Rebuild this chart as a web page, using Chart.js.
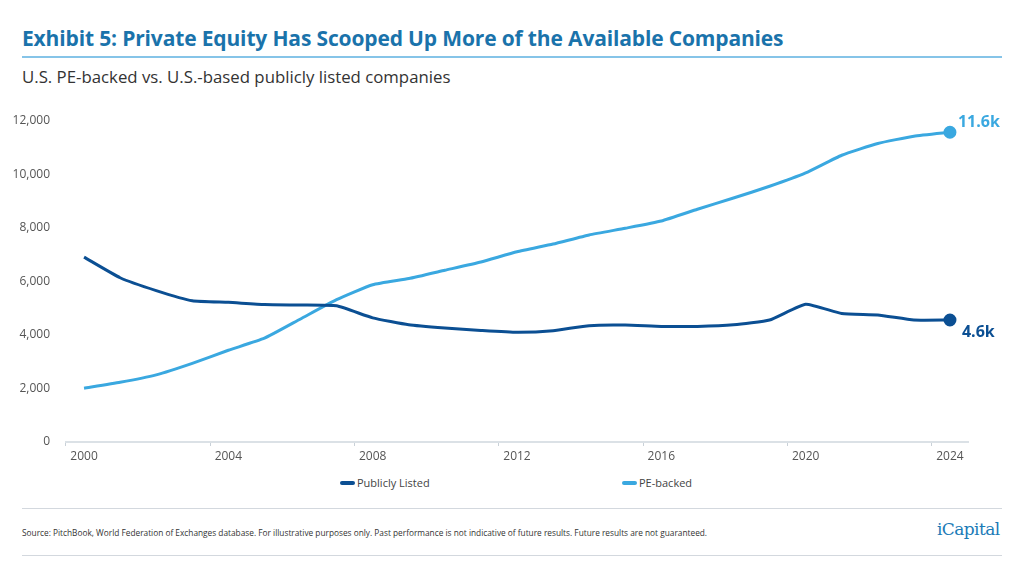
<!DOCTYPE html>
<html>
<head>
<meta charset="utf-8">
<script src="https://cdn.jsdelivr.net/npm/chart.js@4.4.1/dist/chart.umd.min.js"></script>
<style>
  html, body { margin: 0; padding: 0; background: #fff; }
  body { width: 1024px; height: 576px; position: relative; overflow: hidden; font-family: "Open Sans", sans-serif; }
  .title { position: absolute; left: 22px; top: 24px; font-size: 21px; font-weight: 700; color: #1a73ab; letter-spacing: -0.15px; }
  .rule { position: absolute; left: 22px; width: 980px; }
  .subtitle { position: absolute; left: 22px; top: 65px; font-size: 16.8px; color: #333; }
  .chart-box { position: absolute; left: 0; top: 100px; width: 1024px; height: 365px; }
  .legend { position: absolute; top: 475px; font-size: 11px; color: #444; display: flex; align-items: center; }
  .legend i { display: inline-block; width: 15px; height: 4px; border-radius: 2px; margin-right: 2px; }
  .source { position: absolute; left: 22px; top: 527px; font-size: 8.3px; color: #333; }
  .logo { position: absolute; left: 937px; top: 519px; font-family: "DejaVu Serif", serif; font-size: 17px; color: #1b7bb7; letter-spacing: -0.6px; }
</style>
</head>
<body>
<div class="title">Exhibit 5: Private Equity Has Scooped Up More of the Available Companies</div>
<div class="rule" style="top:56px; border-top:2px solid #86c4e8;"></div>
<div class="subtitle">U.S. PE-backed vs. U.S.-based publicly listed companies</div>
<div class="chart-box"><canvas id="lineChart"></canvas></div>
<div class="legend" style="left:340px;"><i style="background:#0b4f93"></i>Publicly Listed</div>
<div class="legend" style="left:622px;"><i style="background:#3aa8e0"></i>PE-backed</div>
<div class="rule" style="top:508px; border-top:1.5px solid #d3d8de;"></div>
<div class="source">Source: PitchBook, World Federation of Exchanges database. For illustrative purposes only. Past performance is not indicative of future results. Future results are not guaranteed.</div>
<div class="logo">iCapital</div>
<div class="rule" style="top:555px; border-top:1.5px solid #d3d8de;"></div>

<script>
// data
const years = ['2000', '2001', '2002', '2003', '2004', '2005', '2006', '2007', '2008', '2009', '2010', '2011',
               '2012', '2013', '2014', '2015', '2016', '2017', '2018', '2019', '2020', '2021', '2022', '2023', '2024'];
const publiclyListed = [6910, 6140, 5660, 5280, 5220, 5140, 5120, 5090, 4640, 4380, 4260, 4170,
                        4100, 4160, 4350, 4370, 4320, 4320, 4380, 4560, 5150, 4800, 4750, 4560, 4560];
const peBacked = [2010, 2230, 2510, 2940, 3430, 3880, 4600, 5320, 5880, 6110, 6420, 6730,
                  7110, 7400, 7740, 7990, 8260, 8700, 9120, 9560, 10060, 10720, 11160, 11430, 11580];
const yTicks = [0, 2000, 4000, 6000, 8000, 10000, 12000];

const darkBlue = '#0b4f93';
const lightBlue = '#3aa8e0';

// bold "11.6k" / "4.6k" tags at the last point of each line
const endLabels = {
    id: 'endLabels',
    afterDatasetsDraw(chart) {
        const ctx = chart.ctx;
        const offsets = [[12, 12], [8, -10]];
        chart.data.datasets.forEach((ds, i) => {
            const meta = chart.getDatasetMeta(i);
            const pt = meta.data[meta.data.length - 1];
            const v = ds.data[ds.data.length - 1];
            ctx.save();
            ctx.font = 'bold 16px "Open Sans"';
            ctx.fillStyle = ds.borderColor;
            ctx.textBaseline = 'middle';
            ctx.fillText((v / 1000).toFixed(1) + 'k', pt.x + offsets[i][0], pt.y + offsets[i][1]);
            ctx.restore();
        });
    }
};

const lastOnly = (r) => (c) => c.dataIndex === years.length - 1 ? r : 0;

new Chart(document.getElementById('lineChart'), {
    type: 'line',
    data: {
        labels: years,
        datasets: [{
            label: 'Publicly Listed',
            data: publiclyListed,
            borderColor: darkBlue,
            backgroundColor: darkBlue,
            borderWidth: 3,
            tension: 0.15,
            pointRadius: lastOnly(5),
            pointHoverRadius: lastOnly(5),
        }, {
            label: 'PE-backed',
            data: peBacked,
            borderColor: lightBlue,
            backgroundColor: lightBlue,
            borderWidth: 3,
            tension: 0.15,
            pointRadius: lastOnly(5),
            pointHoverRadius: lastOnly(5),
        }]
    },
    options: {
        responsive: true,
        maintainAspectRatio: false,
        animation: false,
        layout: { padding: { left: 0, right: 56, top: 21, bottom: 0 } },
        plugins: {
            legend: { display: false },
            tooltip: { enabled: false }
        },
        scales: {
            x: {
                offset: true,
                grid: {
                    offset: true,
                    drawOnChartArea: false,
                    tickLength: 4,
                    tickColor: (c) => c.index % 4 === 0 ? '#c9d1d8' : 'rgba(0,0,0,0)'
                },
                border: { color: '#dbe1e6', width: 2 },
                ticks: {
                    autoSkip: false,
                    maxRotation: 0,
                    padding: 3,
                    color: '#555',
                    font: { family: 'Open Sans', size: 12 },
                    callback: (val, i) => i % 4 === 0 ? years[i] : ''
                },
                afterFit: (s) => { s.height = 23; }
            },
            y: {
                min: 0,
                max: 12000,
                afterBuildTicks: (s) => { s.ticks = yTicks.map(v => ({ value: v })); },
                grid: { display: false },
                border: { display: false },
                ticks: {
                    padding: 8,
                    color: '#555',
                    font: { family: 'Open Sans', size: 12 },
                    callback: (v) => v.toLocaleString('en-US')
                },
                afterFit: (s) => { s.width = 66; }
            }
        }
    },
    plugins: [endLabels]
});
</script>
</body>
</html>
